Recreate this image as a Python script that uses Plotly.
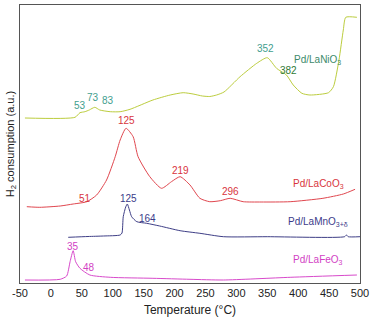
import plotly.graph_objects as go

# ---- data (temperature in °C, signal in arbitrary units) ----
ni_T = [-42, 39, 47, 55, 62, 71, 79, 96, 112, 128, 165, 193, 214, 230, 245, 257, 268, 280, 306, 333, 350, 365, 381, 392, 406, 419, 449, 457, 466, 473, 477, 495]
ni_y = [165, 165.7, 170.3, 171.3, 173, 175.7, 173, 171.3, 171.3, 173.7, 183, 188, 190.3, 189, 187, 186.5, 188, 191, 206.3, 219.7, 225.3, 214.7, 208, 198, 189.7, 188, 190.3, 196.3, 223, 253, 265.7, 265.7]

co_T = [-39, -18, 15, 36, 58, 74, 90, 104, 112, 121.5, 133, 141, 160, 179, 195, 209, 225, 241, 257, 274, 290, 311, 340, 387, 440, 473, 492]
co_y = [76.3, 75.7, 77, 79, 81.3, 88, 103, 126.3, 143, 154.7, 146.3, 126.3, 106.3, 94.7, 101.3, 106.3, 98, 84.7, 81.3, 82.3, 84.7, 81.3, 81, 81.3, 84.7, 89, 93.7]

mn_T = [28, 60, 85, 112, 115, 117, 121, 123.6, 127, 130.6, 139, 155, 176, 209, 241, 279, 350, 475, 478, 481, 500]
mn_y = [45.7, 46.5, 47, 48, 50, 66.3, 76, 79, 73, 66.3, 61.3, 59.7, 57, 52.3, 49.7, 46.3, 46.3, 46.3, 48, 46.3, 46.3]

fe_T = [-42, 15, 25.5, 31, 36, 40, 47, 63, 96, 165, 225, 279, 387, 495]
fe_y = [3, 3.7, 7, 21.3, 32.3, 21.3, 14.7, 8, 5.7, 4.7, 3.7, 3, 5.7, 8]

x_ticks = [-50, 0, 50, 100, 150, 200, 250, 300, 350, 400, 450, 500]
x_tick_text = ["-50", "0", "50", "100", "150", "200", "250", "300", "350", "400", "450", "500"]

# peak labels: (text, x, y, color)
peak_labels = [
    ("53", 47, 177.3, "#3f9e8e"),
    ("73", 68, 186, "#3f9e8e"),
    ("83", 92, 182.3, "#3f9e8e"),
    ("352", 347, 234.7, "#3f9e8e"),
    ("382", 385, 213, "#2f7a35"),
    ("125", 122, 163, "#d8343c"),
    ("51", 55, 84.7, "#d8343c"),
    ("219", 209, 113, "#d8343c"),
    ("296", 290, 91.3, "#d8343c"),
    ("125", 126, 84.7, "#3b3b8a"),
    ("164", 157, 64.7, "#3b3b8a"),
    ("35", 36, 37, "#d23fc4"),
    ("48", 61, 15.7, "#d23fc4"),
]
series_labels = [
    ("Pd/LaNiO<sub>3</sub>", 431, 223, "#3c8a6a"),
    ("Pd/LaCoO<sub>3</sub>", 433, 99, "#d8343c"),
    ("Pd/LaMnO<sub>3+δ</sub>", 432, 61.3, "#3b3b8a"),
    ("Pd/LaFeO<sub>3</sub>", 432, 23, "#d23fc4"),
]

fig = go.Figure()
for T, y, c in [(ni_T, ni_y, "#bccd3e"), (co_T, co_y, "#e0464e"),
                (mn_T, mn_y, "#3e3e86"), (fe_T, fe_y, "#d84acb")]:
    fig.add_trace(go.Scatter(x=T, y=y, mode="lines",
                             line=dict(color=c, width=1, shape="spline", smoothing=0.6),
                             showlegend=False, hoverinfo="skip"))

for txt, x, y, c in peak_labels + series_labels:
    fig.add_annotation(x=x, y=y, xref="x", yref="y", text=txt, showarrow=False,
                       font=dict(size=10, color=c, family="Liberation Sans, Arial"))

fig.update_layout(
    width=386, height=323,
    margin=dict(l=20, r=26, t=5, b=40),
    paper_bgcolor="white", plot_bgcolor="white",
    font=dict(family="Liberation Sans, Arial", color="#222"),
)
fig.update_xaxes(range=[-50, 500], tickvals=x_ticks, ticktext=x_tick_text,
                 showline=True, linecolor="#555",
                 linewidth=1, mirror=True, ticks="", showgrid=False, zeroline=False,
                 tickfont=dict(size=11, color="#222"),
                 title=dict(text="Temperature (°C)", font=dict(size=12, color="#222"), standoff=7))
fig.update_yaxes(range=[0, 278], showline=True, linecolor="#555", linewidth=1, mirror=True,
                 showticklabels=False, ticks="", showgrid=False, zeroline=False,
                 title=dict(text="H<sub>2</sub> consumption (a.u.)", font=dict(size=11, color="#222"), standoff=2))

fig.write_html("out.html")
